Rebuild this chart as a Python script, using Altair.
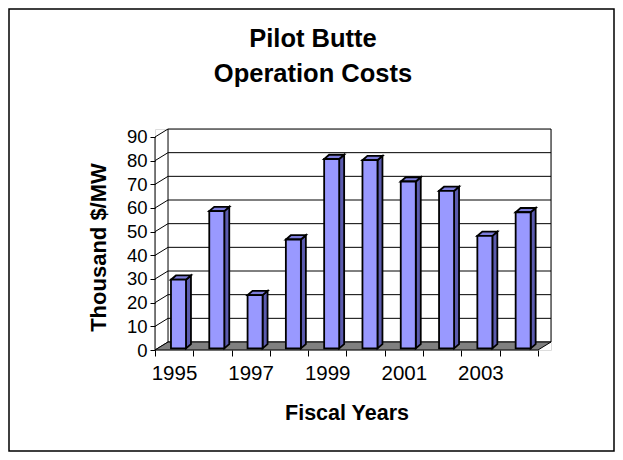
import altair as alt
import pandas as pd

# ---- data ----
title_lines = ["Pilot Butte", "Operation Costs"]
years = [1995, 1996, 1997, 1998, 1999, 2000, 2001, 2002, 2003, 2004]
costs = [29, 58, 22.5, 46, 80, 79.5, 70.5, 66.5, 47.5, 57.5]
y_ticks = [0, 10, 20, 30, 40, 50, 60, 70, 80, 90]
labelled_years = [1995, 1997, 1999, 2001, 2003]

# ---- 3D geometry (in scale units) ----
WALL_DX, WALL_DY = 0.34, 3.38
BAR_L, BAR_R = 0.417, 0.809
BAR_DX, BAR_DY = 0.13, 1.8
BAR_BASE = 0.7
X_MAX = 10 + WALL_DX
Y_MAX = 90 + WALL_DY
FONT = "Liberation Sans"

xs = alt.Scale(domain=[0, X_MAX], nice=False, zero=False)
ys = alt.Scale(domain=[0, Y_MAX], nice=False, zero=False)

front = pd.DataFrame({
    "year": years,
    "x1": [i + BAR_L for i in range(len(years))],
    "x2": [i + BAR_R for i in range(len(years))],
    "y1": [BAR_BASE] * len(years),
    "y2": [v + BAR_BASE for v in costs],
})

side_rows, top_rows = [], []
for i, (yr, v) in enumerate(zip(years, costs)):
    t = v + BAR_BASE
    side_rows += [
        {"year": yr, "x": i + BAR_R, "lo": BAR_BASE, "hi": t},
        {"year": yr, "x": i + BAR_R + BAR_DX, "lo": BAR_BASE + BAR_DY, "hi": t + BAR_DY},
    ]
    top_rows += [
        {"year": yr, "x": i + BAR_L, "lo": t, "hi": t},
        {"year": yr, "x": i + BAR_L + BAR_DX, "lo": t, "hi": t + BAR_DY},
        {"year": yr, "x": i + BAR_R, "lo": t, "hi": t + BAR_DY},
        {"year": yr, "x": i + BAR_R + BAR_DX, "lo": t + BAR_DY, "hi": t + BAR_DY},
    ]
side = pd.DataFrame(side_rows)
top = pd.DataFrame(top_rows)

floor = pd.DataFrame({
    "x": [0, WALL_DX, 10, X_MAX],
    "lo": [0, 0, 0, WALL_DY],
    "hi": [0, WALL_DY, WALL_DY, WALL_DY],
})

rules = []
for v in y_ticks:
    rules.append({"x": WALL_DX, "x2": X_MAX, "y": v + WALL_DY, "y2": v + WALL_DY})  # back wall grid
    rules.append({"x": 0, "x2": WALL_DX, "y": v, "y2": v + WALL_DY})              # side wall grid
rules.append({"x": 0, "x2": 0, "y": 0, "y2": 90})
rules.append({"x": WALL_DX, "x2": WALL_DX, "y": WALL_DY, "y2": Y_MAX})
rules.append({"x": X_MAX, "x2": X_MAX, "y": WALL_DY, "y2": Y_MAX})
rules = pd.DataFrame(rules)

label_expr = " : ".join(
    f"datum.value == {yr - years[0]} ? '{yr}'" for yr in labelled_years
) + " : ''"

x_axis = alt.Axis(
    values=list(range(11)), labelExpr=label_expr, labelOffset=19, tickSize=6,
    domain=False, grid=False, labelFont=FONT, labelFontSize=20.5, labelColor="black",
    labelPadding=7, labelOverlap=False, labelFlush=False, labelBound=False,
    tickColor="black", title="Fiscal Years", titleFont=FONT, titleFontSize=21.5,
    titleFontWeight="bold", titleColor="black", titleX=191.5, titleY=63,
    titleBaseline="middle", titleAlign="center", titleAnchor="start",
)
y_axis = alt.Axis(
    values=y_ticks, tickSize=5, domain=False, grid=False, labelFont=FONT,
    labelFontSize=18.5, labelColor="black", labelPadding=3, tickColor="black",
    title="Thousand $/MW", titleFont=FONT, titleFontSize=22, titleFontWeight="bold",
    titleColor="black", titleX=-57, titleY=118, titleBaseline="middle",
    titleAlign="center", titleAnchor="start",
)


def X(field):
    return alt.X(field, scale=xs, axis=x_axis)


def Y(field):
    return alt.Y(field, scale=ys, axis=y_axis)


border = alt.Chart(alt.Data(values=[{}])).mark_rect(
    filled=False, stroke="black", strokeWidth=1.5
).encode(
    x=alt.value(-146), x2=alt.value(459), y=alt.value(-120), y2=alt.value(322)
)

title_layer = alt.Chart(alt.Data(values=[{}])).mark_text(
    font=FONT, fontSize=25.5, fontWeight="bold", color="black", lineHeight=35,
    align="center", baseline="middle",
).encode(
    x=alt.value(158), y=alt.value(-90), text=alt.value(title_lines)
)

grid = alt.Chart(rules).mark_rule(color="black", strokeWidth=1).encode(
    x=X("x:Q"), x2="x2:Q", y=Y("y:Q"), y2="y2:Q",
)

floor_layer = alt.Chart(floor).mark_area(
    orient="vertical", color="#808080", stroke="black", strokeWidth=1
).encode(x=X("x:Q"), y=Y("lo:Q"), y2="hi:Q")

front_layer = alt.Chart(front).mark_rect(
    color="#9999FF", stroke="black", strokeWidth=1.8
).encode(x=X("x1:Q"), x2="x2:Q", y=Y("y1:Q"), y2="y2:Q")

side_layer = alt.Chart(side).mark_area(
    orient="vertical", color="#5B5BAE", stroke="black", strokeWidth=1.8, strokeJoin="miter"
).encode(x=X("x:Q"), y=Y("lo:Q"), y2="hi:Q", detail="year:N")

top_layer = alt.Chart(top).mark_area(
    orient="vertical", color="#7D7DDB", stroke="black", strokeWidth=1.8, strokeJoin="miter"
).encode(x=X("x:Q"), y=Y("lo:Q"), y2="hi:Q", detail="year:N")

chart = alt.layer(
    grid, border, title_layer, floor_layer, side_layer, top_layer, front_layer
).properties(
    width=396,
    height=221,
    autosize=alt.AutoSizeParams(type="none"),
    padding={"left": 147, "top": 121, "right": 64, "bottom": 102},
).configure_view(stroke=None).configure(background="white")

chart.save("out.html", embed_options={"renderer": "svg", "actions": False})
